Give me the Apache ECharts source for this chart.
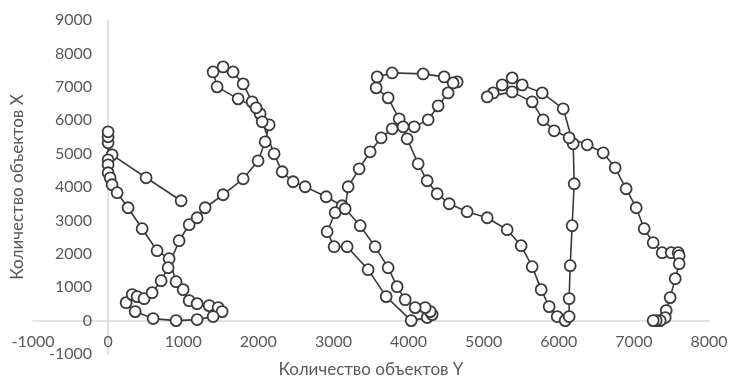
<!DOCTYPE html>
<html>
<head>
<meta charset="utf-8">
<script src="https://cdn.jsdelivr.net/npm/echarts@6/dist/echarts.min.js"></script>
<style>
  html, body { margin: 0; padding: 0; background: #fff; }
  #chart { width: 729px; height: 378px; }
</style>
</head>
<body>
<div id="chart"></div>
<script>
// Path of points, in drawing order: x = "Количество объектов Y", y = "Количество объектов X"
const objectsY = [
  972, 506, 53, 0, 0, 0, 0, 0, 0, 27, 53, 120, 266, 453, 652, 812, 905, 999, 1079, 1185,
  1345, 1465, 1518, 1398, 1185, 905, 599, 360, 240, 320, 386, 479, 586, 706, 799, 945,
  1079, 1185, 1292, 1531, 1798, 1997, 2091, 2144, 2024, 1917, 1798, 1664, 1531, 1398,
  1451, 1731, 1971, 2051, 2210, 2317, 2463, 2623, 2903, 3116, 3023, 2916, 3009, 3182,
  3462, 3702, 4035, 4248, 4314, 4288, 4221, 4088, 3955, 3848, 3728, 3555, 3356, 3156,
  3196, 3342, 3489, 3635, 3782, 3875, 3728, 3569, 3582, 3782, 4194, 4474, 4647, 4594,
  4527, 4394, 4261, 4075, 3928, 3981, 4128, 4248, 4381, 4541, 4780, 5047, 5313, 5499,
  5646, 5766, 5872, 5979, 6085, 6138, 6138, 6152, 6178, 6205, 6192, 6059, 5779, 5513,
  5379, 5246, 5127, 5047, 5379, 5646, 5792, 5939, 6138, 6378, 6591, 6751, 6897, 7031,
  7137, 7257, 7377, 7497, 7590, 7603, 7603, 7550, 7483, 7430, 7417, 7350, 7297, 7257
];
const objectsX = [
  3589, 4276, 4964, 5323, 5502, 5652, 4815, 4665, 4426, 4276, 4067, 3830, 3379, 2751, 2093, 1854, 1166, 927, 598, 508,
  449, 389, 269, 120, 30, 0, 60, 269, 538, 778, 718, 658, 837, 1196, 1585, 2392,
  2871, 3080, 3379, 3768, 4246, 4785, 5353, 5861, 6190, 6549, 7087, 7446, 7596, 7446,
  6998, 6639, 6370, 5951, 4994, 4456, 4157, 4007, 3708, 3439, 3230, 2661, 2213, 2213,
  1525, 718, 0, 90, 179, 269, 389, 389, 628, 1017, 1585, 2213, 2841, 3349,
  4007, 4545, 5054, 5472, 5742, 6041, 6669, 6968, 7297, 7416, 7386, 7297, 7147, 7117,
  6818, 6429, 6011, 5801, 5801, 5443, 4695, 4187, 3798, 3499, 3260, 3080, 2721, 2243,
  1615, 927, 419, 120, 0, 120, 658, 1645, 2841, 4097, 5293, 6340, 6818, 7057,
  7267, 7057, 6818, 6698, 6848, 6549, 6011, 5682, 5472, 5263, 5024, 4575, 3947, 3379,
  2751, 2333, 2033, 2033, 2033, 1944, 1705, 1256, 688, 299, 90, 0, 0, 0
];

const xTitle = "Количество объектов Y";
const yTitle = "Количество объектов X";

const textColor = "#595959";
const axisColor = "#d9d9d9";
const markColor = "#3a3a3a";
const fontFamily = "Lato, 'Liberation Sans', sans-serif";

const chart = echarts.init(document.getElementById("chart"), null, { renderer: "canvas" });

// labels stay at the grid edge in v6, so margins pull them in next to the zero lines
chart.setOption({
  animation: false,
  grid: { left: 33, right: 20, top: 20, bottom: 24, outerBoundsMode: "none", containLabel: false },
  xAxis: {
    type: "value",
    min: -1000,
    max: 8000,
    interval: 1000,
    name: xTitle,
    nameLocation: "middle",
    nameGap: 7,
    nameMoveOverlap: false,
    nameTextStyle: { color: textColor, fontSize: 17, fontFamily },
    axisLine: { onZero: true, lineStyle: { color: axisColor, width: 1.5 } },
    axisTick: { show: false },
    splitLine: { show: false },
    axisLabel: { color: textColor, fontSize: 16, fontFamily, margin: -20, formatter: (v) => String(v) }
  },
  yAxis: {
    type: "value",
    min: -1000,
    max: 9000,
    interval: 1000,
    name: yTitle,
    nameLocation: "middle",
    nameGap: 7,
    nameMoveOverlap: false,
    nameTextStyle: { color: textColor, fontSize: 17, fontFamily },
    axisLine: { onZero: true, lineStyle: { color: axisColor, width: 1.5 } },
    axisTick: { show: false },
    splitLine: { show: false },
    axisLabel: { color: textColor, fontSize: 16, fontFamily, margin: -59, formatter: (v) => String(v) }
  },
  series: [
    {
      type: "line",
      data: objectsY.map((v, i) => [v, objectsX[i]]),
      symbol: "circle",
      symbolSize: 11,
      showAllSymbol: true,
      lineStyle: { color: markColor, width: 1.6 },
      itemStyle: { color: "#ffffff", borderColor: markColor, borderWidth: 1.8 }
    }
  ]
});
</script>
</body>
</html>
